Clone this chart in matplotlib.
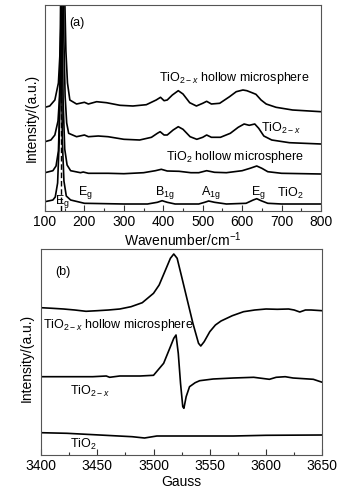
import matplotlib
matplotlib.use("Agg")
import matplotlib.pyplot as plt
from matplotlib.ticker import MultipleLocator

plt.rcParams['font.family'] = ['Liberation Sans', 'DejaVu Sans']
plt.rcParams['mathtext.fontset'] = 'custom'
plt.rcParams['mathtext.rm'] = 'Liberation Sans'
plt.rcParams['mathtext.it'] = 'Liberation Sans:italic'
plt.rcParams['mathtext.bf'] = 'Liberation Sans:bold'

# ---------------- (a) Raman data (arbitrary intensity units) ----------------
w1 = [100, 112, 125, 134, 139, 142, 144, 146, 148, 150, 153, 157, 163, 180, 200, 210, 231, 256, 290, 323,
      357, 382, 393, 402, 410, 423, 438, 450, 467, 484, 500, 510, 522, 543, 568, 585, 602, 612, 625, 635,
      648, 661, 686, 728, 800]
i1 = [103.7, 105, 111, 128, 165, 210, 280, 330, 280, 215, 160, 128, 111, 107, 108.7, 107, 109.3, 108.3, 105.7, 105,
      106.3, 111, 113.7, 110.3, 111, 116, 120.3, 117, 108.3, 105, 107.7, 109.7, 107, 107.7, 114.3, 119.3, 121, 120.3, 118.3, 116.7,
      111, 107, 103.7, 101, 99.3]

w2 = [100, 115, 125, 133, 137, 140, 142, 144, 146, 148, 151, 155, 160, 180, 200, 210, 235, 260, 300, 340,
      370, 385, 392, 402, 410, 425, 438, 450, 468, 485, 500, 510, 522, 545, 570, 590, 605, 618, 632, 642,
      655, 675, 720, 800]
i2 = [69.3, 71, 76, 90, 115, 170, 240, 290, 240, 170, 115, 88, 77.7, 74.3, 76, 74.3, 75, 74.3, 71.7, 71,
      73.7, 77.7, 79.3, 76, 76, 81, 84.3, 81.7, 74.3, 71.7, 73.7, 76, 73.7, 73.7, 77.7, 83.7, 87, 85.7, 87, 82.7,
      75, 71, 68.3, 67]

w3 = [100, 120, 128, 134, 138, 140, 142, 144, 146, 150, 156, 165, 190, 197, 210, 260, 300, 350, 380, 395,
      410, 440, 470, 490, 510, 530, 560, 600, 620, 637, 650, 665, 700, 800]
i3 = [38.3, 40.3, 45, 60, 110, 180, 250, 180, 110, 62, 46, 40.3, 38.3, 39, 37.7, 37.7, 37.3, 38.3, 40.3, 41.7,
      40, 39.7, 38.3, 38.3, 40.3, 38.7, 38.3, 40.3, 42.7, 45, 42.7, 39.3, 37.7, 37]

w4 = [100, 120, 126, 132, 136, 138, 140, 142, 144, 148, 154, 165, 200, 300, 360, 385, 397, 410, 430, 490,
      505, 515, 530, 560, 610, 628, 637, 648, 665, 700, 800]
i4 = [9.3, 11, 14, 28, 70, 140, 230, 140, 70, 30, 15, 11, 7.7, 7, 7, 8.7, 10.3, 8.7, 7, 7,
      8.7, 10, 8.7, 7, 7.7, 11, 12.3, 10.3, 7.7, 7, 7]

raman_ticks = [100, 200, 300, 400, 500, 600, 700, 800]
dash_pos = 141

# ---------------- (b) EPR data (arbitrary intensity units) ----------------
gA = [3400, 3410, 3420, 3430, 3440, 3450, 3460, 3470, 3480, 3490, 3500, 3505, 3510, 3515, 3518, 3521, 3525,
      3530, 3535, 3540, 3542, 3545, 3550, 3555, 3560, 3570, 3580, 3590, 3600, 3610, 3620, 3625, 3630, 3635,
      3640, 3650]
eA = [147.3, 146.7, 146, 145, 143.7, 144.3, 145, 146, 148.3, 152.3, 161.7, 170, 183.3, 196.7, 201, 196.7, 178.3,
      155, 131.7, 111.7, 109, 113.3, 123.3, 130, 134, 139.3, 143.3, 145, 146, 145.7, 146, 145, 143, 145,
      145, 144.3]

gB = [3400, 3423, 3446, 3458, 3461, 3470, 3488, 3500, 3509, 3515, 3518, 3520, 3522, 3524, 3526, 3527, 3529,
      3532, 3537, 3541, 3553, 3571, 3589, 3603, 3609, 3617, 3624, 3642, 3650]
eB = [78.3, 78.3, 78.3, 79, 77.7, 79, 79, 79.7, 91.7, 108.3, 116.7, 120, 101.7, 71.7, 48.3, 46.7, 58.3,
      68.3, 72.3, 74.3, 76, 77, 77.7, 75.7, 77.7, 78.3, 77, 75.7, 72.7]

gC = [3400, 3423, 3452, 3481, 3492, 3503, 3541, 3571, 3600, 3650]
eC = [22.3, 21.7, 20, 18.3, 17, 19, 19, 19, 19.7, 20]

epr_ticks = [3400, 3450, 3500, 3550, 3600, 3650]

# ---------------- figure ----------------
fig = plt.figure(figsize=(3.5, 4.92), dpi=100)
ax1 = fig.add_axes([45/350, 1-211/492, 276/350, 206/492])
ax2 = fig.add_axes([41/350, 1-455/492, 281.3/350, 205.7/492])

lw = 1.2
for w, i in [(w1, i1), (w2, i2), (w3, i3), (w4, i4)]:
    ax1.plot(w, i, color='black', lw=lw)
ax1.axvline(dash_pos, color='black', lw=1.0, ls=(0, (4, 2)))
ax1.set_xlim(100, 800)
ax1.set_ylim(0, 206)
ax1.set_xticks(raman_ticks)
ax1.xaxis.set_minor_locator(MultipleLocator(50))
ax1.set_yticks([])
ax1.set_xlabel('Wavenumber/cm$^{-1}$', fontsize=10, labelpad=1)
ax1.set_ylabel('Intensity/(a.u.)', fontsize=10)
ax1.yaxis.set_label_coords(-6/276, 0.45)

for w, i in [(gA, eA), (gB, eB), (gC, eC)]:
    ax2.plot(w, i, color='black', lw=lw)
ax2.set_xlim(3400, 3650)
ax2.set_ylim(0, 205.7)
ax2.set_xticks(epr_ticks)
ax2.xaxis.set_minor_locator(MultipleLocator(25))
ax2.set_yticks([])
ax2.set_xlabel('Gauss', fontsize=10, labelpad=1)
ax2.set_ylabel('Intensity/(a.u.)', fontsize=10)
ax2.yaxis.set_label_coords(-7/281.3, 0.47)

for ax in (ax1, ax2):
    ax.tick_params(axis='x', which='major', direction='in', length=4, width=0.8,
                   labelsize=10, pad=3, colors='#333333', labelcolor='black')
    ax.tick_params(axis='x', which='minor', direction='in', length=2, width=0.8, colors='#333333')
    for s in ax.spines.values():
        s.set_color('#555555')
        s.set_linewidth(0.8)

fs = 9
t1 = ax1.transAxes
ax1.text(0.115, 0.913, '(a)', transform=t1, fontsize=fs, ha='center', va='center')
ax1.text(0.685, 0.646, 'TiO$_{2\u2212x}$ hollow microsphere', transform=t1, fontsize=fs, ha='center', va='center')
ax1.text(0.855, 0.403, 'TiO$_{2\u2212x}$', transform=t1, fontsize=fs, ha='center', va='center')
ax1.text(0.690, 0.262, 'TiO$_2$ hollow microsphere', transform=t1, fontsize=fs, ha='center', va='center')
ax1.text(0.888, 0.087, 'TiO$_2$', transform=t1, fontsize=fs, ha='center', va='center')
ax1.text(0.145, 0.092, 'E$_\\mathrm{g}$', transform=t1, fontsize=fs, ha='center', va='center')
ax1.text(0.435, 0.092, 'B$_\\mathrm{1g}$', transform=t1, fontsize=fs, ha='center', va='center')
ax1.text(0.601, 0.092, 'A$_\\mathrm{1g}$', transform=t1, fontsize=fs, ha='center', va='center')
ax1.text(0.772, 0.092, 'E$_\\mathrm{g}$', transform=t1, fontsize=fs, ha='center', va='center')
ax1.text(0.062, 0.044, 'E$_\\mathrm{g}$', transform=t1, fontsize=fs, ha='center', va='center')

t2 = ax2.transAxes
ax2.text(0.078, 0.891, '(b)', transform=t2, fontsize=fs, ha='center', va='center')
ax2.text(0.006, 0.632, 'TiO$_{2\u2212x}$ hollow microsphere', transform=t2, fontsize=fs, ha='left', va='center')
ax2.text(0.103, 0.308, 'TiO$_{2\u2212x}$', transform=t2, fontsize=fs, ha='left', va='center')
ax2.text(0.103, 0.049, 'TiO$_2$', transform=t2, fontsize=fs, ha='left', va='center')

fig.savefig('out.png', dpi=100)
